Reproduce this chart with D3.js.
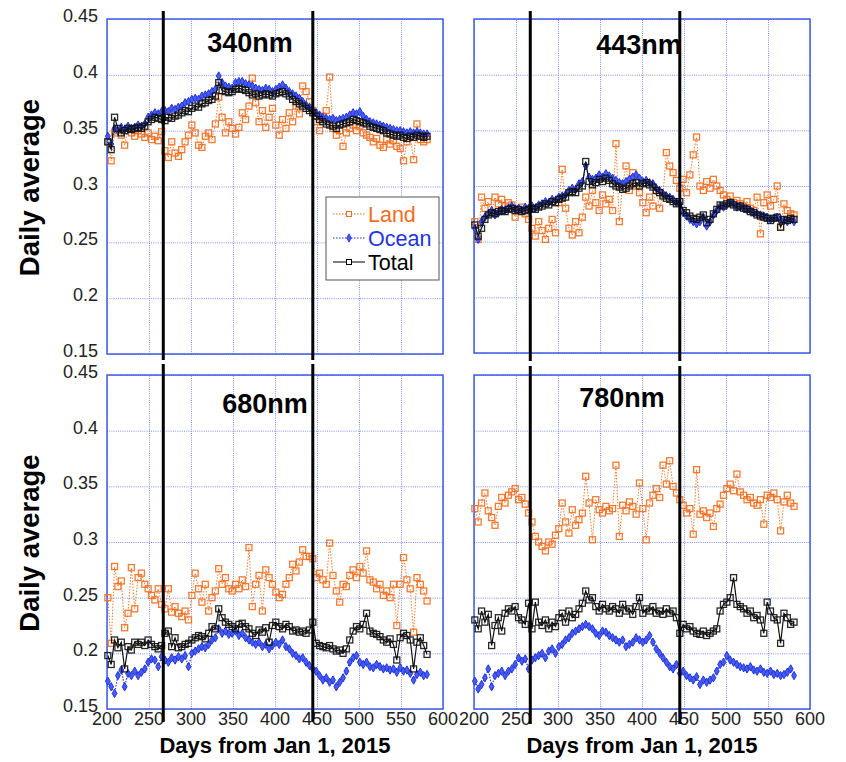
<!DOCTYPE html>
<html lang="en">
<head>
<meta charset="UTF-8">
<title>Daily average by wavelength</title>
<script src="https://d3js.org/d3.v7.min.js"></script>
<style>
  html, body { margin:0; padding:0; background:#fff; }
  svg { display:block; font-family:"Liberation Sans", Arial, sans-serif; }
  .grid line { stroke:#7f8ff0; stroke-dasharray:1,1.2; stroke-width:1; }
  .grid path { display:none; }
  .frame { fill:none; stroke:#3553e6; stroke-width:1.4; }
  .tick-label { font-size:18px; fill:#222; }
</style>
</head>
<body>
<div id="chart"></div>
<script>
// sampled days (every 4th day of the daily record)
const days=[201,205,209,213,217,221,225,229,233,237,241,245,249,253,257,261,265,269,273,277,
  281,285,289,293,297,301,305,309,313,317,321,325,329,333,337,341,345,349,353,357,
  361,365,369,373,377,381,385,389,393,397,401,405,409,413,417,421,425,429,433,437,
  441,445,449,453,457,461,465,469,473,477,481,485,489,493,497,501,505,509,513,517,
  521,525,529,533,537,541,545,549,553,557,561,565,569,573,577,581];

const land340=[0.340,0.323,0.348,0.350,0.346,0.337,0.352,0.348,0.345,0.350,
  0.347,0.344,0.348,0.342,0.345,0.341,0.349,0.332,0.326,0.340,
  0.330,0.327,0.333,0.340,0.346,0.355,0.348,0.337,0.335,0.345,
  0.348,0.342,0.356,0.380,0.362,0.348,0.358,0.352,0.347,0.353,
  0.366,0.360,0.372,0.397,0.375,0.358,0.368,0.353,0.362,0.370,
  0.355,0.346,0.360,0.352,0.366,0.358,0.372,0.365,0.390,0.385,
  0.376,0.368,0.358,0.350,0.363,0.368,0.398,0.352,0.346,0.350,
  0.336,0.348,0.352,0.355,0.350,0.354,0.348,0.346,0.344,0.340,
  0.343,0.337,0.335,0.342,0.338,0.341,0.336,0.334,0.323,0.340,
  0.345,0.324,0.356,0.342,0.340,0.342];
const ocean340=[0.345,0.338,0.352,0.350,0.353,0.351,0.354,0.352,0.353,0.355,
  0.354,0.356,0.362,0.364,0.366,0.365,0.367,0.368,0.367,0.370,
  0.369,0.371,0.372,0.375,0.376,0.378,0.379,0.378,0.381,0.382,
  0.383,0.385,0.387,0.399,0.393,0.390,0.389,0.388,0.393,0.394,
  0.394,0.392,0.391,0.390,0.388,0.387,0.386,0.388,0.387,0.385,
  0.387,0.389,0.391,0.388,0.385,0.383,0.381,0.379,0.376,0.373,
  0.371,0.368,0.366,0.364,0.362,0.361,0.360,0.361,0.359,0.360,
  0.361,0.362,0.364,0.366,0.365,0.367,0.363,0.360,0.358,0.357,
  0.356,0.355,0.354,0.353,0.352,0.351,0.350,0.350,0.349,0.348,
  0.349,0.348,0.349,0.348,0.347,0.347];
const total340=[0.340,0.333,0.362,0.352,0.348,0.350,0.352,0.351,0.352,0.353,
  0.352,0.354,0.358,0.360,0.362,0.361,0.360,0.359,0.362,0.361,
  0.363,0.364,0.366,0.368,0.367,0.370,0.372,0.371,0.374,0.375,
  0.377,0.378,0.381,0.393,0.386,0.385,0.384,0.385,0.387,0.388,
  0.387,0.386,0.384,0.382,0.383,0.381,0.382,0.383,0.382,0.381,
  0.383,0.384,0.385,0.383,0.381,0.378,0.376,0.374,0.372,0.370,
  0.368,0.366,0.363,0.360,0.358,0.356,0.355,0.354,0.352,0.355,
  0.356,0.357,0.358,0.360,0.359,0.358,0.357,0.356,0.354,0.353,
  0.352,0.351,0.350,0.348,0.347,0.346,0.345,0.346,0.344,0.343,
  0.345,0.344,0.346,0.345,0.344,0.345];

const land443=[0.268,0.252,0.290,0.280,0.286,0.276,0.290,0.284,0.288,0.282,
  0.285,0.283,0.272,0.278,0.281,0.275,0.270,0.262,0.255,0.268,
  0.260,0.252,0.262,0.270,0.258,0.285,0.315,0.280,0.262,0.256,
  0.268,0.258,0.272,0.290,0.282,0.296,0.285,0.278,0.292,0.284,
  0.288,0.278,0.338,0.268,0.302,0.318,0.296,0.312,0.300,0.294,
  0.285,0.276,0.290,0.282,0.296,0.280,0.292,0.330,0.318,0.312,
  0.305,0.298,0.306,0.294,0.310,0.328,0.344,0.300,0.296,0.304,
  0.298,0.306,0.300,0.296,0.292,0.288,0.291,0.285,0.287,0.284,
  0.282,0.286,0.280,0.278,0.290,0.257,0.285,0.292,0.282,0.288,
  0.300,0.263,0.284,0.278,0.275,0.274];
const ocean443=[0.262,0.252,0.268,0.272,0.275,0.278,0.274,0.276,0.279,0.278,
  0.280,0.282,0.279,0.280,0.278,0.281,0.280,0.282,0.280,0.283,
  0.284,0.286,0.285,0.288,0.287,0.290,0.291,0.292,0.296,0.298,
  0.297,0.302,0.304,0.318,0.308,0.306,0.307,0.310,0.308,0.311,
  0.309,0.307,0.305,0.303,0.302,0.304,0.306,0.308,0.310,0.307,
  0.304,0.305,0.303,0.302,0.298,0.296,0.293,0.291,0.290,0.288,
  0.285,0.284,0.276,0.273,0.270,0.268,0.266,0.268,0.272,0.264,
  0.268,0.274,0.278,0.282,0.281,0.283,0.285,0.284,0.281,0.282,
  0.280,0.279,0.278,0.276,0.275,0.274,0.273,0.272,0.270,0.271,
  0.272,0.270,0.269,0.268,0.270,0.268];
const total443=[0.265,0.255,0.262,0.270,0.274,0.276,0.275,0.277,0.278,0.277,
  0.279,0.280,0.278,0.279,0.277,0.278,0.279,0.280,0.279,0.281,
  0.282,0.284,0.283,0.286,0.285,0.288,0.289,0.290,0.294,0.295,
  0.294,0.298,0.300,0.322,0.304,0.301,0.303,0.306,0.304,0.307,
  0.305,0.302,0.300,0.299,0.297,0.298,0.300,0.302,0.303,0.300,
  0.302,0.303,0.301,0.299,0.296,0.294,0.291,0.289,0.288,0.286,
  0.284,0.286,0.278,0.276,0.273,0.271,0.270,0.272,0.274,0.267,
  0.270,0.275,0.279,0.283,0.282,0.284,0.285,0.283,0.281,0.282,
  0.280,0.279,0.277,0.276,0.274,0.273,0.272,0.271,0.269,0.271,
  0.272,0.263,0.270,0.269,0.271,0.270];

const land680=[0.250,0.209,0.278,0.260,0.265,0.223,0.236,0.277,0.240,0.268,
  0.272,0.262,0.258,0.252,0.248,0.258,0.244,0.240,0.258,0.237,
  0.242,0.236,0.233,0.238,0.230,0.252,0.272,0.258,0.246,0.262,
  0.238,0.250,0.256,0.276,0.262,0.268,0.258,0.256,0.262,0.258,
  0.266,0.260,0.295,0.242,0.262,0.270,0.238,0.275,0.268,0.262,
  0.255,0.250,0.253,0.262,0.268,0.280,0.274,0.282,0.293,0.287,
  0.287,0.285,0.268,0.272,0.266,0.262,0.299,0.270,0.256,0.246,
  0.262,0.260,0.270,0.275,0.268,0.278,0.272,0.292,0.266,0.264,
  0.258,0.262,0.252,0.256,0.250,0.262,0.225,0.262,0.286,0.266,
  0.258,0.219,0.268,0.262,0.256,0.247];
const ocean680=[0.175,0.170,0.164,0.180,0.185,0.170,0.182,0.180,0.184,0.180,
  0.183,0.186,0.192,0.195,0.194,0.188,0.197,0.194,0.192,0.196,
  0.194,0.197,0.195,0.198,0.188,0.200,0.202,0.204,0.206,0.205,
  0.208,0.212,0.214,0.222,0.218,0.220,0.217,0.218,0.220,0.216,
  0.218,0.214,0.212,0.210,0.208,0.210,0.206,0.208,0.204,0.207,
  0.210,0.208,0.212,0.206,0.204,0.200,0.198,0.195,0.196,0.192,
  0.189,0.186,0.184,0.180,0.176,0.178,0.174,0.176,0.170,0.174,
  0.178,0.184,0.192,0.196,0.198,0.192,0.190,0.192,0.188,0.187,
  0.190,0.188,0.186,0.187,0.185,0.186,0.183,0.187,0.184,0.185,
  0.182,0.176,0.181,0.183,0.180,0.181];
const total680=[0.198,0.190,0.212,0.205,0.210,0.186,0.206,0.203,0.210,0.208,
  0.210,0.207,0.212,0.208,0.206,0.204,0.207,0.218,0.220,0.206,
  0.214,0.205,0.206,0.208,0.209,0.212,0.214,0.216,0.215,0.213,
  0.218,0.224,0.222,0.240,0.232,0.228,0.226,0.224,0.222,0.226,
  0.227,0.224,0.222,0.218,0.216,0.221,0.219,0.223,0.210,0.225,
  0.228,0.224,0.222,0.226,0.224,0.220,0.221,0.219,0.220,0.218,
  0.221,0.228,0.209,0.207,0.206,0.205,0.207,0.204,0.202,0.203,
  0.200,0.204,0.212,0.220,0.224,0.222,0.226,0.236,0.220,0.218,
  0.217,0.215,0.212,0.210,0.213,0.208,0.194,0.214,0.218,0.216,
  0.212,0.186,0.210,0.214,0.207,0.199];

const land780=[0.330,0.318,0.335,0.344,0.328,0.322,0.315,0.332,0.340,0.335,
  0.342,0.345,0.348,0.338,0.340,0.334,0.326,0.318,0.305,0.300,
  0.296,0.292,0.300,0.298,0.306,0.312,0.335,0.318,0.308,0.329,
  0.315,0.320,0.326,0.359,0.335,0.302,0.338,0.329,0.326,0.332,
  0.328,0.330,0.369,0.305,0.333,0.328,0.336,0.332,0.325,0.353,
  0.330,0.302,0.335,0.342,0.348,0.340,0.369,0.352,0.373,0.350,
  0.344,0.338,0.333,0.326,0.330,0.307,0.365,0.325,0.328,0.322,
  0.326,0.314,0.330,0.334,0.342,0.348,0.352,0.346,0.361,0.345,
  0.342,0.338,0.340,0.335,0.333,0.338,0.316,0.342,0.340,0.344,
  0.338,0.310,0.336,0.342,0.335,0.332];
const ocean780=[0.175,0.168,0.172,0.178,0.186,0.170,0.180,0.182,0.184,0.180,
  0.184,0.186,0.190,0.196,0.193,0.195,0.186,0.194,0.196,0.198,
  0.200,0.196,0.202,0.204,0.200,0.206,0.208,0.212,0.214,0.218,
  0.220,0.222,0.224,0.226,0.224,0.222,0.218,0.216,0.220,0.219,
  0.216,0.214,0.212,0.210,0.212,0.206,0.208,0.210,0.214,0.212,
  0.210,0.212,0.216,0.210,0.204,0.200,0.196,0.192,0.188,0.186,
  0.190,0.182,0.184,0.180,0.178,0.176,0.179,0.172,0.176,0.174,
  0.176,0.178,0.184,0.190,0.192,0.198,0.194,0.192,0.190,0.188,
  0.187,0.186,0.188,0.185,0.184,0.186,0.183,0.182,0.184,0.181,
  0.182,0.180,0.181,0.183,0.186,0.180];
const total780=[0.230,0.222,0.238,0.228,0.235,0.207,0.225,0.232,0.220,0.236,
  0.240,0.238,0.242,0.232,0.230,0.226,0.245,0.222,0.246,0.228,
  0.225,0.230,0.222,0.228,0.224,0.232,0.236,0.228,0.238,0.232,
  0.235,0.240,0.245,0.256,0.248,0.250,0.242,0.238,0.244,0.240,
  0.238,0.242,0.240,0.236,0.244,0.238,0.240,0.235,0.242,0.250,
  0.236,0.240,0.238,0.242,0.236,0.238,0.235,0.240,0.236,0.238,
  0.232,0.218,0.226,0.222,0.224,0.220,0.218,0.217,0.220,0.216,
  0.218,0.220,0.222,0.238,0.244,0.246,0.250,0.268,0.244,0.242,
  0.240,0.236,0.238,0.232,0.234,0.230,0.218,0.246,0.238,0.232,
  0.230,0.209,0.236,0.232,0.226,0.228];

const xTicks=[200,250,300,350,400,450,500,550,600];
const yTicks=[0.15,0.2,0.25,0.3,0.35,0.4,0.45];
const markerDays=[267,445];
const seriesNames=["Land","Ocean","Total"];

const W=846,H=762;
const ORANGE="#f26d1d",BLUE="#1f35e0",BLACK="#111";

// layout of the four panels (pixels)
const panels=[
  {title:"340nm",series:[land340,ocean340,total340],l:107,r:443,t:19,b:354,yLab:true,xLab:false,tx:250,ty:52,vTop:11,vBot:360,legend:true},
  {title:"443nm",series:[land443,ocean443,total443],l:474,r:810,t:19,b:353,yLab:false,xLab:false,tx:639,ty:54,vTop:11,vBot:361,legend:false},
  {title:"680nm",series:[land680,ocean680,total680],l:107,r:443,t:375,b:709,yLab:true,xLab:true,tx:265,ty:413,vTop:364,vBot:722,legend:false},
  {title:"780nm",series:[land780,ocean780,total780],l:474,r:810,t:375,b:709,yLab:false,xLab:true,tx:622,ty:407,vTop:366,vBot:724,legend:false}
];

const svg=d3.select("#chart").append("svg").attr("width",W).attr("height",H);

const diamond=d3.symbol().type(d3.symbolDiamond).size(20);
const SQ=6;

panels.forEach(p=>{
  const x=d3.scaleLinear().domain([200,600]).range([p.l,p.r]);
  const y=d3.scaleLinear().domain([0.15,0.45]).range([p.b,p.t]);
  const g=svg.append("g");

  // dotted grid
  g.append("g").attr("class","grid").attr("transform","translate(0,"+p.b+")")
    .call(d3.axisBottom(x).tickValues(xTicks).tickSize(-(p.b-p.t)).tickFormat(""));
  g.append("g").attr("class","grid").attr("transform","translate("+p.l+",0)")
    .call(d3.axisLeft(y).tickValues(yTicks).tickSize(-(p.r-p.l)).tickFormat(""));
  g.append("rect").attr("class","frame").attr("x",p.l).attr("y",p.t)
    .attr("width",p.r-p.l).attr("height",p.b-p.t);

  if(p.yLab){
    g.selectAll(".ylab").data(yTicks).join("text").attr("class","tick-label")
      .attr("x",p.l-9).attr("y",d=>y(d)+3).attr("text-anchor","end")
      .text(d=>d3.format(".2~f")(d));
    svg.append("text").attr("transform","translate(39,"+((p.t+p.b)/2+1)+") rotate(-90)")
      .attr("text-anchor","middle").attr("font-size","27.5px").attr("font-weight","bold")
      .text("Daily average");
  }
  if(p.xLab){
    g.selectAll(".xlab").data(xTicks).join("text").attr("class","tick-label")
      .attr("x",d=>x(d)).attr("y",p.b+16).attr("text-anchor","middle")
      .text(d=>d);
    svg.append("text").attr("x",(p.l+p.r)/2).attr("y",753)
      .attr("text-anchor","middle").attr("font-size","22px").attr("font-weight","bold")
      .text("Days from Jan 1, 2015");
  }

  const pts=s=>days.map((d,i)=>[x(d),y(s[i])]);
  const line=d3.line();
  const [land,ocean,total]=p.series.map(pts);

  // land: dotted orange with open squares
  g.append("path").attr("d",line(land)).attr("fill","none")
    .attr("stroke",ORANGE).attr("stroke-width",1).attr("stroke-dasharray","1.5,1.5").attr("opacity",0.9);
  g.selectAll(".land").data(land).join("rect")
    .attr("x",d=>d[0]-SQ/2).attr("y",d=>d[1]-SQ/2).attr("width",SQ).attr("height",SQ)
    .attr("fill","none").attr("stroke",ORANGE).attr("stroke-width",1.3).attr("opacity",0.9);

  // ocean: dotted blue with small diamonds
  g.append("path").attr("d",line(ocean)).attr("fill","none")
    .attr("stroke",BLUE).attr("stroke-width",1.2).attr("stroke-dasharray","1.5,1.5");
  g.selectAll(".ocean").data(ocean).join("path")
    .attr("transform",d=>"translate("+d[0]+","+d[1]+")").attr("d",diamond)
    .attr("fill","#4a5cf0").attr("stroke",BLUE).attr("stroke-width",1);

  // total: solid black with open squares
  g.append("path").attr("d",line(total)).attr("fill","none")
    .attr("stroke",BLACK).attr("stroke-width",1.2);
  g.selectAll(".total").data(total).join("rect")
    .attr("x",d=>d[0]-SQ/2).attr("y",d=>d[1]-SQ/2).attr("width",SQ).attr("height",SQ)
    .attr("fill","none").attr("stroke",BLACK).attr("stroke-width",1.3).attr("opacity",0.9);

  // vertical markers
  markerDays.forEach(md=>{
    svg.append("line").attr("x1",x(md)).attr("x2",x(md)).attr("y1",p.vTop).attr("y2",p.vBot)
      .attr("stroke","#000").attr("stroke-width",3);
  });

  svg.append("text").attr("x",p.tx).attr("y",p.ty).attr("text-anchor","middle")
    .attr("font-size","27px").attr("font-weight","bold").text(p.title);

  if(p.legend){
    const lg=svg.append("g");
    lg.append("rect").attr("x",326).attr("y",197).attr("width",113).attr("height",83)
      .attr("fill","#fff").attr("stroke","#555").attr("stroke-width",1);
    const cols=[ORANGE,BLUE,"#000"];
    seriesNames.forEach((nm,i)=>{
      const yy=214+i*24;
      lg.append("line").attr("x1",333).attr("x2",365).attr("y1",yy).attr("y2",yy)
        .attr("stroke",cols[i]).attr("stroke-width",1).attr("stroke-dasharray",i<2?"1.5,1.5":null);
      if(i===1){
        lg.append("path").attr("transform","translate(349,"+yy+")").attr("d",diamond)
          .attr("fill","#4a5cf0").attr("stroke",BLUE).attr("stroke-width",0.8);
      } else {
        lg.append("rect").attr("x",346.5).attr("y",yy-2.5).attr("width",5).attr("height",5)
          .attr("fill","#fff").attr("stroke",cols[i]).attr("stroke-width",1);
      }
      lg.append("text").attr("x",368).attr("y",yy+8).attr("font-size","21.5px")
        .attr("fill",cols[i]).text(nm);
    });
  }
});
</script>
</body>
</html>
